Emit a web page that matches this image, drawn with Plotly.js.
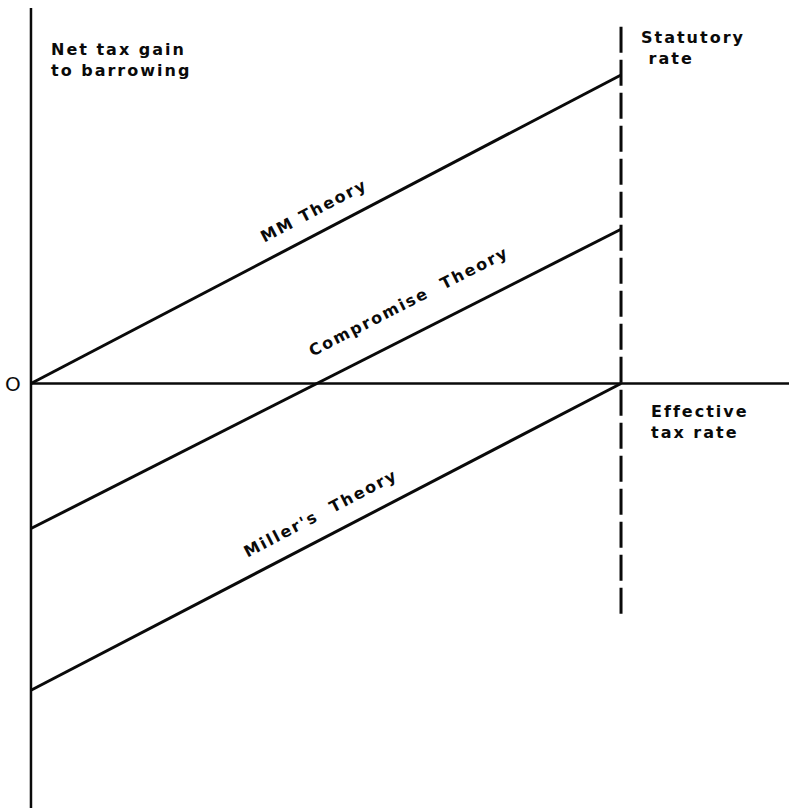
<!DOCTYPE html>
<html>
<head>
<meta charset="utf-8">
<script src="https://cdn.plot.ly/plotly-3.0.1.min.js"></script>
<style>
  html, body { margin: 0; padding: 0; background: #fff; }
  #chart { width: 789px; height: 809px; }
  .annotation-text { letter-spacing: 2px; }
</style>
</head>
<body>
<div id="chart"></div>
<script>
// effective tax rate runs 0..1, the dashed line sits at the statutory rate (x = 1)
const effRate = [0, 1];
const mmGain = [0, 1];
const compromiseGain = [-0.47, 0.5];
const millerGain = [-0.994, 0];

// axes and the statutory-rate marker
const yAxisX = [0, 0];
const yAxisY = [1.217, -1.376];
const xAxisX = [0, 1.29];
const xAxisY = [0, 0];
const statX = [1, 1];
const statY = [1.156, -0.768];

const ink = '#0a0a0a';
const labelFont = {family: 'DejaVu Sans', size: 16, color: ink, weight: 'bold'};

function line(x, y, w, dash) {
  return {
    type: 'scatter',
    mode: 'lines',
    x: x,
    y: y,
    hoverinfo: 'skip',
    line: {color: ink, width: w, dash: dash || 'solid'}
  };
}

let plotData = [
  line(yAxisX, yAxisY, 2.5),
  line(xAxisX, xAxisY, 2.5),
  line(statX, statY, 3, '26px,7px'),
  line(effRate, mmGain, 3),
  line(effRate, compromiseGain, 3),
  line(effRate, millerGain, 3)
];

const angle = -27.6;

let layout = {
  width: 789,
  height: 809,
  margin: {l: 0, r: 0, t: 0, b: 0},
  paper_bgcolor: '#fff',
  plot_bgcolor: '#fff',
  showlegend: false,
  xaxis: {range: [-0.0525, 1.2847], visible: false, fixedrange: true},
  yaxis: {range: [-1.379, 1.243], visible: false, fixedrange: true},
  annotations: [
    {x: 0.03, y: 1.12, xanchor: 'left', yanchor: 'top', align: 'left',
     text: 'Net tax gain<br>to barrowing', showarrow: false, font: labelFont},
    {x: 1.03, y: 1.16, xanchor: 'left', yanchor: 'top', align: 'left',
     text: 'Statutory<br> rate', showarrow: false, font: labelFont},
    {x: 1.047, y: -0.055, xanchor: 'left', yanchor: 'top', align: 'left',
     text: 'Effective<br>tax rate', showarrow: false, font: labelFont},
    {x: -0.029, y: 0, xanchor: 'center', yanchor: 'middle',
     text: 'O', showarrow: false,
     font: {family: 'DejaVu Sans', size: 20, color: ink}},
    {x: 0.48, y: 0.56, xanchor: 'center', yanchor: 'middle', textangle: angle,
     text: 'MM Theory', showarrow: false, font: labelFont},
    {x: 0.64, y: 0.265, xanchor: 'center', yanchor: 'middle', textangle: -27,
     text: 'Compromise  Theory', showarrow: false, font: labelFont},
    {x: 0.49, y: -0.42, xanchor: 'center', yanchor: 'middle', textangle: angle,
     text: "Miller's  Theory", showarrow: false, font: labelFont}
  ]
};

Plotly.newPlot('chart', plotData, layout, {displayModeBar: false, staticPlot: true});
</script>
</body>
</html>
